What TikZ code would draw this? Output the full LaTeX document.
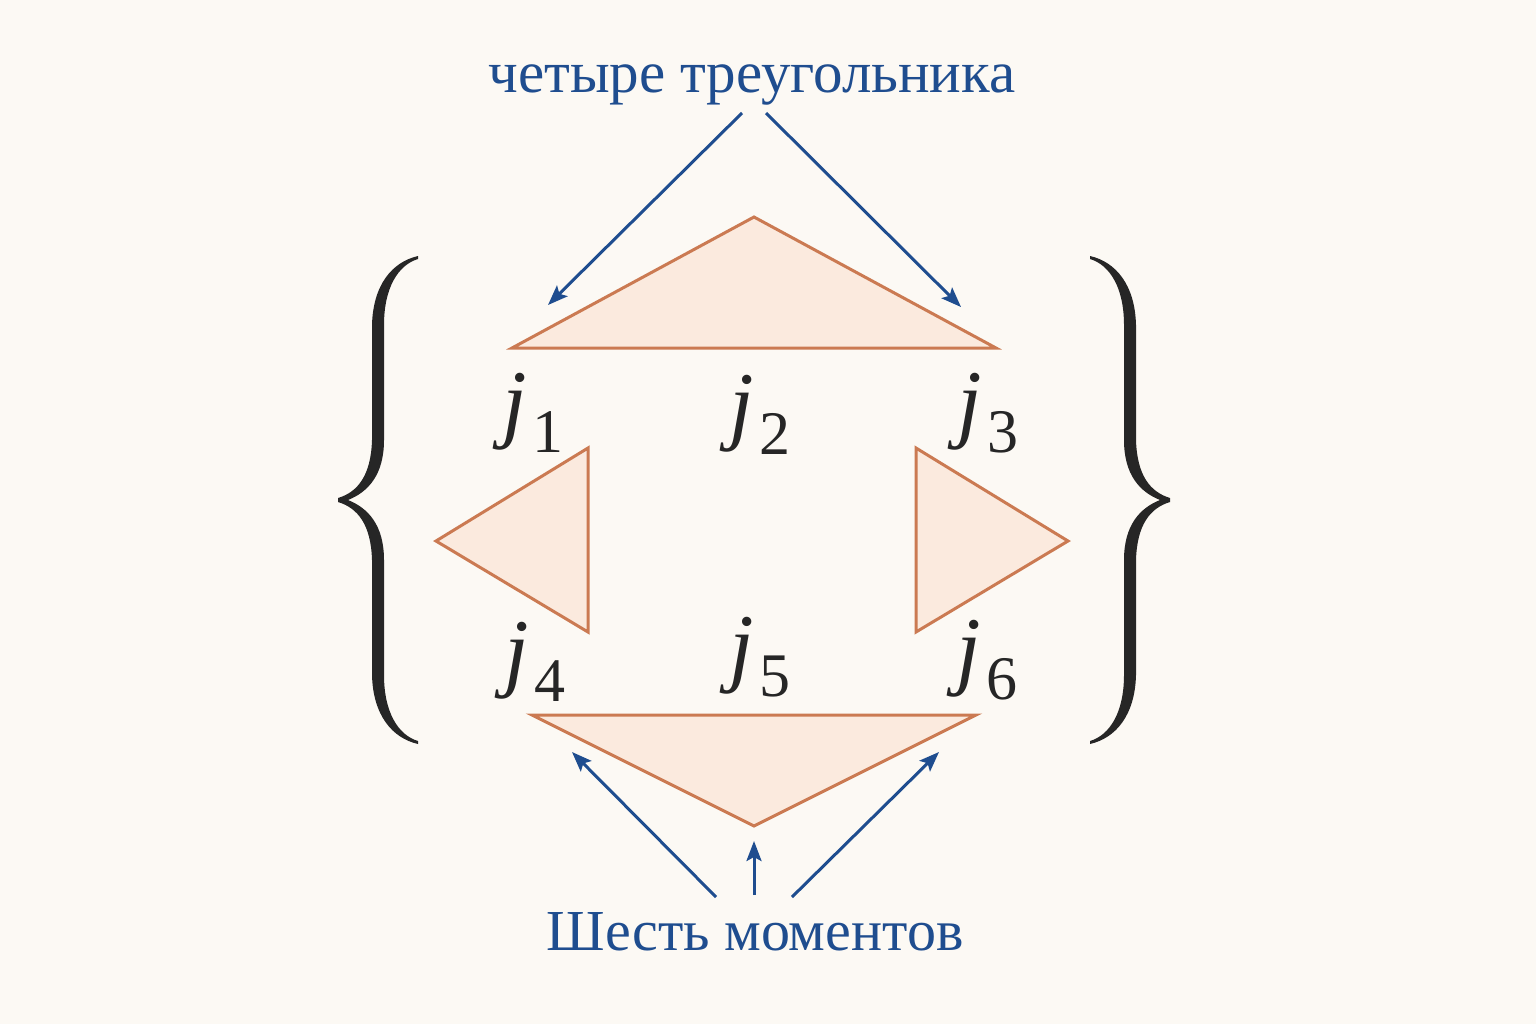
\documentclass[tikz,border=0pt]{standalone}
\usepackage{fontspec}
\setmainfont{Liberation Serif}
\usetikzlibrary{arrows.meta,positioning}

\definecolor{bgcream}{RGB}{252,249,244}
\definecolor{triedge}{RGB}{203,122,82}
\definecolor{trifill}{RGB}{251,234,222}
\definecolor{noteblue}{RGB}{31,77,143}
\definecolor{inkgray}{RGB}{38,38,38}

\newcommand{\jlab}[1]{\textit{j}\kern3pt\raisebox{-10.5pt}{\fontsize{31}{31}\selectfont #1}}

\begin{document}
\begin{tikzpicture}[
	x=0.5pt, y=-0.5pt,
	tri/.style={draw=triedge, fill=trifill, line width=1.5pt, line join=miter},
	pointer/.style={draw=noteblue, line width=1.5pt, -{Stealth[length=10pt,width=7.5pt,inset=2pt]}},
	note/.style={text=noteblue, anchor=base, inner sep=0pt},
	jnode/.style={text=inkgray, anchor=base, inner sep=0pt, font=\fontsize{44}{44}\selectfont},
	]

	\fill[bgcream] (0,0) rectangle (1536,1024);
	\useasboundingbox (0,0) rectangle (1536,1024);

	% the four triangles
	\draw[tri] (512,348) -- (754,217) -- (996,348) -- cycle;
	\draw[tri] (588,448) -- (436,541) -- (588,632) -- cycle;
	\draw[tri] (916,448) -- (1068,541) -- (916,632) -- cycle;
	\draw[tri] (532,715) -- (976,715) -- (754,826) -- cycle;

	% the six moments
	\node[jnode] (j1) at (533,431) {\jlab{1}};
	\node[jnode] (j2) at (760,433) {\jlab{2}};
	\node[jnode] (j3) at (988,431) {\jlab{3}};
	\node[jnode] (j4) at (535,680) {\jlab{4}};
	\node[jnode] (j5) at (760,675) {\jlab{5}};
	\node[jnode] (j6) at (987,678) {\jlab{6}};

	% braces
	\foreach \flip in {1,-1} {
		\begin{scope}[shift={(754,0)}, xscale=\flip, shift={(-754,0)}]
			\fill[inkgray] (418,256) .. controls (392,262) and (373,285) .. (372,325) -- (372,440)
				.. controls (371,475) and (358,492) .. (338,498) -- (338,502)
				.. controls (358,508) and (371,525) .. (372,560) -- (372,675)
				.. controls (373,715) and (392,738) .. (418,744) -- (418,741)
				.. controls (398,735) and (384,712) .. (384,675) -- (384,560)
				.. controls (384,525) and (368,508) .. (348,500)
				.. controls (368,492) and (384,475) .. (384,440) -- (384,325)
				.. controls (384,288) and (398,265) .. (418,259) -- cycle;
		\end{scope}
	}

	% labels
	\node[note, font=\fontsize{29.5}{29.5}\selectfont] (toplabel) at (752,92) {четыре треугольника};
	\node[note, font=\fontsize{29}{29}\selectfont] (botlabel) at (755,950) {Шесть моментов};

	\coordinate (ta) at (742,113);
	\coordinate (tb) at (766,113);
	\coordinate (ea) at (548,305);
	\coordinate (eb) at (961,307);
	\draw[pointer] (ta) -- (ea);
	\draw[pointer] (tb) -- (eb);

	\coordinate (ba) at (716,897);
	\coordinate (bb) at (754,895);
	\coordinate (bc) at (792,897);
	\coordinate (fa) at (572,752);
	\coordinate (fb) at (754,841);
	\coordinate (fc) at (939,752);
	\draw[pointer] (ba) -- (fa);
	\draw[pointer] (bb) -- (fb);
	\draw[pointer] (bc) -- (fc);

\end{tikzpicture}
\end{document}
